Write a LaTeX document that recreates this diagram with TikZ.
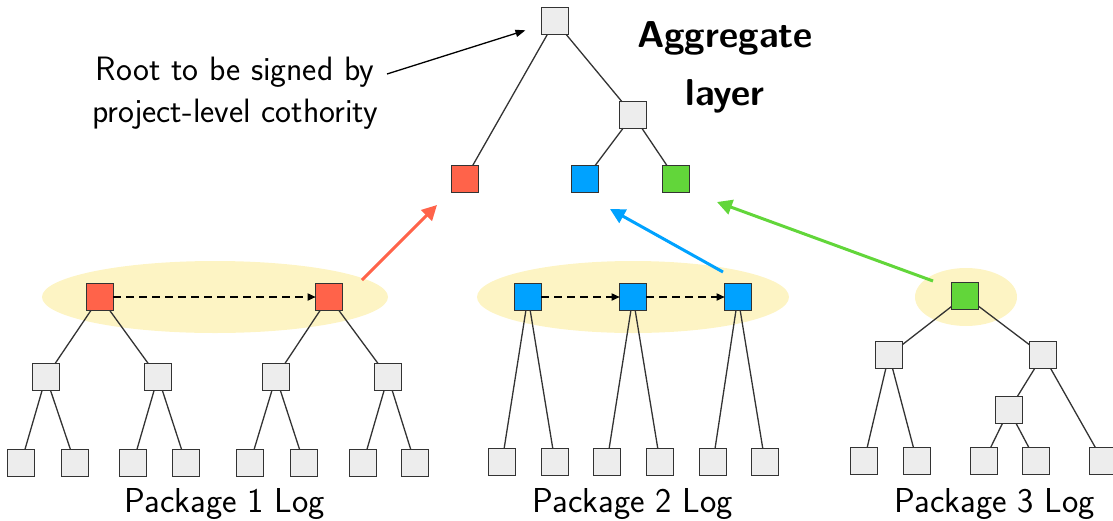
\documentclass[tikz,border=0pt]{standalone}
\usetikzlibrary{arrows.meta}

\definecolor{boxgray}{HTML}{EDEDED}
\definecolor{edgegray}{HTML}{333333}
\definecolor{logred}{HTML}{FF634A}
\definecolor{logblue}{HTML}{00A2FF}
\definecolor{loggreen}{HTML}{62D63A}
\definecolor{glow}{HTML}{FDF4C4}

\begin{document}
\begin{tikzpicture}[x=0.5pt,y=-0.5pt,
  box/.style={draw=edgegray, line width=0.65pt, fill=boxgray,
              minimum size=13.35pt, inner sep=0pt, outer sep=0pt},
  redbox/.style={box, fill=logred},
  bluebox/.style={box, fill=logblue},
  greenbox/.style={box, fill=loggreen},
  edge/.style={draw=edgegray, line width=0.65pt},
  link/.style={black, line width=0.6pt, dash pattern=on 4pt off 2.5pt,
               -{Triangle[length=4pt,width=3.6pt]}},
  feed/.style={line width=1.5pt, -{Triangle[length=7.5pt,width=7.5pt]}},
  pointer/.style={black, line width=0.65pt, -{Triangle[length=5pt,width=3.6pt]}},
  halo/.style={fill=glow},
  loglabel/.style={font=\sffamily\fontsize{17.3}{21}\selectfont, anchor=base, inner sep=0pt},
]
\useasboundingbox (0,0) rectangle (1113,520);

% highlighted log heads
\fill[halo] (215,297) ellipse [x radius=173, y radius=36];
\fill[halo] (633,297) ellipse [x radius=156, y radius=36];
\fill[halo] (966,297) ellipse [x radius=51, y radius=29];

% aggregate tree
\node[box] (root) at (555,21) {};
\node[box] (mid) at (633,115) {};
\node[redbox] (ar) at (465,179) {};
\node[bluebox] (ab) at (585,179) {};
\node[greenbox] (ag) at (676,179) {};
\draw[edge] (root) -- (ar);
\draw[edge] (root) -- (mid);
\draw[edge] (mid) -- (ab);
\draw[edge] (mid) -- (ag);

% package 1 log
\node[redbox] (p1a) at (100,297) {};
\node[redbox] (p1b) at (329,297) {};
\node[box] (p1a1) at (46,377) {};
\node[box] (p1a2) at (158,377) {};
\node[box] (p1b1) at (276,377) {};
\node[box] (p1b2) at (388,377) {};
\foreach \x [count=\i] in {21,75,133,186,250,304,363,415}
  \node[box] (p1l\i) at (\x,463) {};
\draw[edge] (p1a) -- (p1a1);
\draw[edge] (p1a) -- (p1a2);
\draw[edge] (p1b) -- (p1b1);
\draw[edge] (p1b) -- (p1b2);
\draw[edge] (p1a1) -- (p1l1);
\draw[edge] (p1a1) -- (p1l2);
\draw[edge] (p1a2) -- (p1l3);
\draw[edge] (p1a2) -- (p1l4);
\draw[edge] (p1b1) -- (p1l5);
\draw[edge] (p1b1) -- (p1l6);
\draw[edge] (p1b2) -- (p1l7);
\draw[edge] (p1b2) -- (p1l8);
\draw[link] (p1a) -- (p1b);

% package 2 log
\node[bluebox] (p2a) at (528,297) {};
\node[bluebox] (p2b) at (633,297) {};
\node[bluebox] (p2c) at (738,297) {};
\foreach \x [count=\i] in {502,555,607,660,713,765}
  \node[box] (p2l\i) at (\x,462) {};
\draw[edge] (p2a) -- (p2l1);
\draw[edge] (p2a) -- (p2l2);
\draw[edge] (p2b) -- (p2l3);
\draw[edge] (p2b) -- (p2l4);
\draw[edge] (p2c) -- (p2l5);
\draw[edge] (p2c) -- (p2l6);
\draw[link] (p2a) -- (p2b);
\draw[link] (p2b) -- (p2c);

% package 3 log
\node[greenbox] (p3) at (965,296) {};
\node[box] (p3a) at (889,355) {};
\node[box] (p3b) at (1043,355) {};
\node[box] (p3c) at (1009,410) {};
\foreach \x [count=\i] in {864,917,984,1036,1103}
  \node[box] (p3l\i) at (\x,461) {};
\draw[edge] (p3) -- (p3a);
\draw[edge] (p3) -- (p3b);
\draw[edge] (p3a) -- (p3l1);
\draw[edge] (p3a) -- (p3l2);
\draw[edge] (p3b) -- (p3c);
\draw[edge] (p3b) -- (p3l5);
\draw[edge] (p3c) -- (p3l3);
\draw[edge] (p3c) -- (p3l4);

% heads carried up into the aggregate layer
\coordinate (redtail) at (362,280);
\coordinate (redtip) at (437,205);
\coordinate (bluetail) at (723,272);
\coordinate (bluetip) at (610,209);
\coordinate (greentail) at (933,281);
\coordinate (greentip) at (717,202);
\draw[feed, logred] (redtail) -- (redtip);
\draw[feed, logblue] (bluetail) -- (bluetip);
\draw[feed, loggreen] (greentail) -- (greentip);

% labels
\node[loglabel] (lab1) at (225,512) {Package 1 Log};
\node[loglabel] (lab2) at (633,512) {Package 2 Log};
\node[loglabel] (lab3) at (995,512) {Package 3 Log};

\node[anchor=base, inner sep=0pt, font=\sffamily\bfseries\fontsize{18.7}{29}\selectfont]
  (agg) at (725,47) {\begin{tabular}[t]{@{}c@{}}Aggregate\\ layer\end{tabular}};

\node[anchor=base, inner sep=0pt, font=\sffamily\fontsize{16.9}{21}\selectfont]
  (note) at (235,80) {\begin{tabular}[t]{@{}c@{}}Root to be signed by\\ project-level cothority\end{tabular}};
\coordinate (notetail) at (387,74);
\draw[pointer, shorten >=8.5pt] (notetail) -- (root);

\end{tikzpicture}
\end{document}
